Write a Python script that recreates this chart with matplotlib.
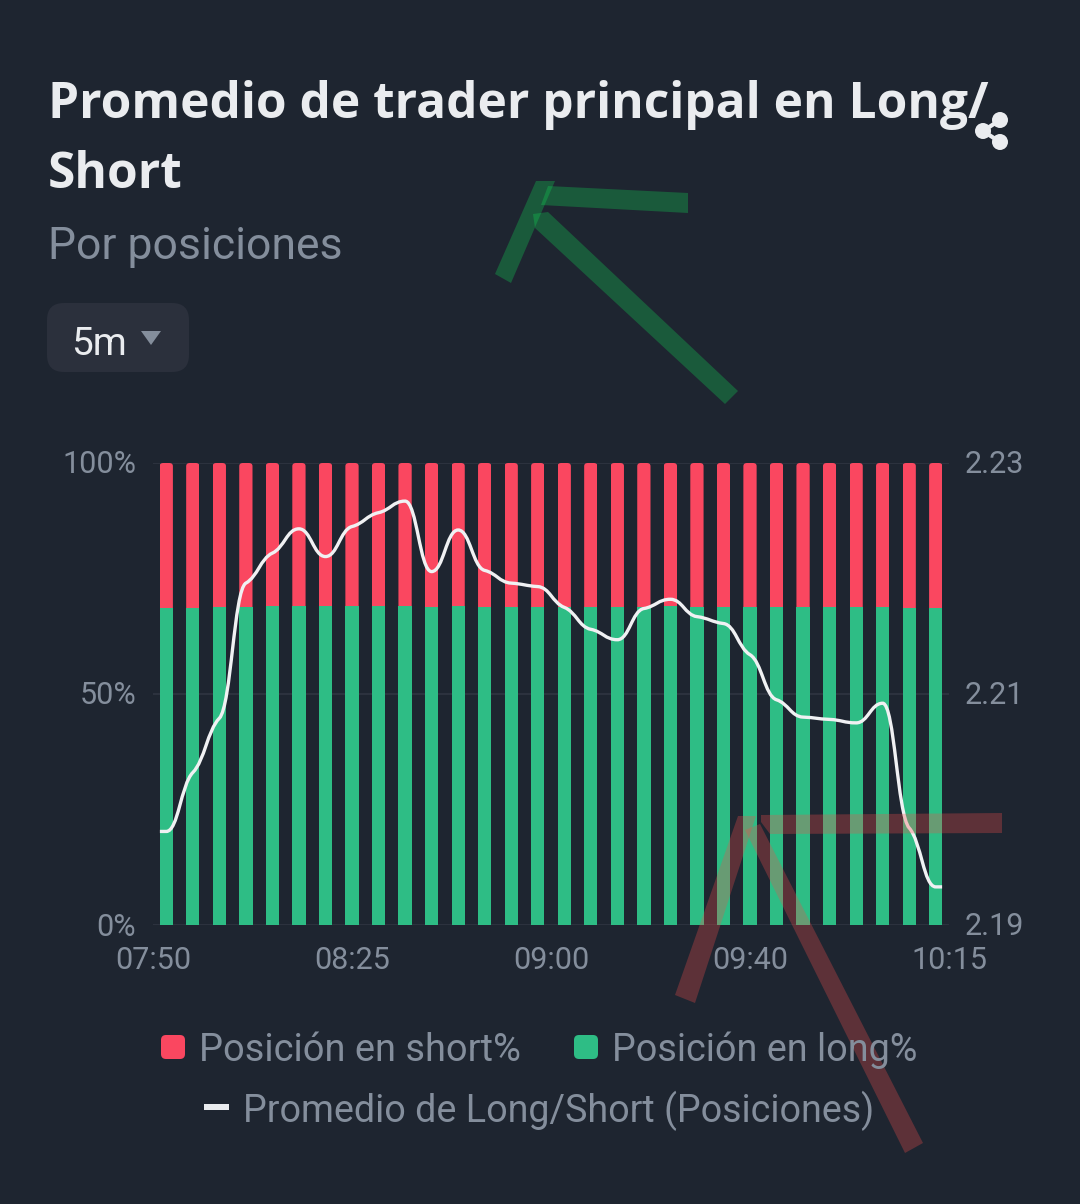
import matplotlib
matplotlib.use("Agg")
import matplotlib.pyplot as plt
import numpy as np
from matplotlib.patches import FancyBboxPatch, PathPatch, Polygon, Circle, Rectangle
from matplotlib.path import Path
from matplotlib.transforms import ScaledTranslation

W, H = 1080, 1204
BG = "#1e2530"
RED = "#fa4760"
GREEN = "#2ebd85"
GRAY = "#848e9c"
WHITE = "#eaecef"
GRID = "#2f3541"

times = ["07:50", "08:25", "09:00", "09:40", "10:15"]
pct_labels = ["0%", "50%", "100%"]
pct_ticks = [0, 50, 100]
ratio_labels = ["2.19", "2.21", "2.23"]
ratio_ticks = [2.19, 2.21, 2.23]

long_pct = [68.7, 68.7, 68.8, 68.9, 69.0, 69.0, 69.0, 69.0, 69.0, 69.0,
            68.9, 69.0, 68.9, 68.9, 68.9, 68.8, 68.8, 68.8, 68.9, 69.0,
            68.9, 68.9, 68.8, 68.9, 68.8, 68.8, 68.8, 68.8, 68.7, 68.7]
short_pct = [100 - v for v in long_pct]
ratio = [2.1981, 2.2032, 2.2079, 2.2196, 2.2222, 2.2243, 2.2219, 2.2245, 2.2257, 2.2267,
         2.2206, 2.2242, 2.2207, 2.2196, 2.2193, 2.2175, 2.2156, 2.2147, 2.2174, 2.2182,
         2.2167, 2.2161, 2.2134, 2.2095, 2.2080, 2.2078, 2.2075, 2.2092, 2.1984, 2.1933]


def monotone_path(x, y, pad=0.24):
    # monotone curve with flat shoulders at each point, as bezier segments
    x = np.asarray(x, float)
    y = np.asarray(y, float)
    s = np.diff(y) / np.diff(x)
    m = np.zeros(len(y))
    for i in range(1, len(y) - 1):
        if s[i - 1] * s[i] > 0:
            m[i] = np.sign(s[i]) * 0.5 * min(abs(s[i - 1]), abs(s[i]))
    verts = [(x[0] - pad, y[0]), (x[0], y[0])]
    codes = [Path.MOVETO, Path.LINETO]
    for i in range(len(x) - 1):
        h = (x[i + 1] - x[i]) * 0.45
        verts += [(x[i] + h, y[i] + m[i] * h), (x[i + 1] - h, y[i + 1] - m[i + 1] * h), (x[i + 1], y[i + 1])]
        codes += [Path.CURVE4] * 3
    verts.append((x[-1] + pad, y[-1]))
    codes.append(Path.LINETO)
    return Path(verts, codes)


plt.rcParams["font.family"] = ["Roboto", "DejaVu Sans"]
fig = plt.figure(figsize=(W / 100, H / 100), dpi=100, facecolor=BG)

# overlay in pixel coordinates for header, legend and hand drawn arrows
over = fig.add_axes([0, 0, 1, 1], zorder=3)
over.set_xlim(0, W)
over.set_ylim(H, 0)
over.axis("off")
over.patch.set_alpha(0)

ax = fig.add_axes([153 / W, 1 - 925 / H, 796 / W, 462 / H], facecolor=BG)
x = np.arange(len(long_pct))
ax.set_xlim(-0.5, len(x) - 0.5)
ax.set_ylim(0, 100)
ax.bar(x, long_pct, width=0.5, color=GREEN, zorder=2)
reds = ax.bar(x, short_pct, bottom=long_pct, width=0.5, color=RED, zorder=2)
for xi, bar in zip(x, reds):
    clip = FancyBboxPatch((xi - 0.25, 0), 0.5, 100, boxstyle="round,pad=0,rounding_size=0.14",
                          mutation_aspect=0.8 / 0.14 * 0.85, transform=ax.transData)
    bar.set_clip_path(clip)
for s in ax.spines.values():
    s.set_visible(False)
ax.set_yticks(pct_ticks)
ax.set_yticklabels(pct_labels, va="center")
# time labels sit evenly along the whole axis, not on the bars
ax.set_xticks(np.linspace(-0.5, len(x) - 0.5, len(times)))
ax.set_xticklabels(times)
ax.tick_params(length=0, labelsize=22, labelcolor=GRAY)
ax.tick_params(axis="y", pad=12)
ax.tick_params(axis="x", pad=15)
ax.grid(axis="y", color=GRID, lw=1.2, zorder=1)
ax.set_axisbelow(True)

ax2 = ax.twinx()
ax2.set_ylim(2.19, 2.23)
ax2.set_yticks(ratio_ticks)
ax2.set_yticklabels(ratio_labels, va="center")
ax2.tick_params(length=0, labelsize=22, labelcolor=GRAY, pad=11)
for s in ax2.spines.values():
    s.set_visible(False)
ax2.add_patch(PathPatch(monotone_path(x, ratio), fill=False, ec="#f0f1f3", lw=2.4, zorder=4))

# y labels sit 2px lower than va=center puts them
nudge = ScaledTranslation(0, -0.02, fig.dpi_scale_trans)
for t in ax.get_yticklabels() + ax2.get_yticklabels():
    t.set_transform(t.get_transform() + nudge)

# header
over.text(48, 118, "Promedio de trader principal en Long/", color=WHITE, fontsize=35.7, fontweight="bold", family="Open Sans")
over.text(48, 188, "Short", color=WHITE, fontsize=35.7, fontweight="bold", family="Open Sans")
over.text(48, 259, "Por posiciones", color=GRAY, fontsize=32)
over.add_patch(FancyBboxPatch((47, 303), 142, 69, boxstyle="round,pad=0,rounding_size=17", fc="#2b303c", ec="none"))
over.text(71, 355, "5m", color=WHITE, fontsize=28)
over.add_patch(Polygon([(141, 331), (161, 331), (151, 345)], fc=GRAY, ec="none"))

# share icon
for a, b in [((1000, 120), (983, 131)), ((983, 131), (1000, 142))]:
    over.plot([a[0], b[0]], [a[1], b[1]], color=WHITE, lw=3)
for c in [(1000, 120), (983, 131), (1000, 142)]:
    over.add_patch(Circle(c, 8, fc=WHITE, ec="none"))

# legend
over.add_patch(FancyBboxPatch((161, 1035), 24, 24, boxstyle="round,pad=0,rounding_size=5", fc=RED, ec="none"))
over.text(199, 1061, "Posición en short%", color=GRAY, fontsize=27.4)
over.add_patch(FancyBboxPatch((574, 1035), 24, 24, boxstyle="round,pad=0,rounding_size=5", fc=GREEN, ec="none"))
over.text(612, 1061, "Posición en long%", color=GRAY, fontsize=27.2)
over.add_patch(Rectangle((204, 1104), 25, 6, fc=WHITE, ec="none"))
over.text(243, 1122, "Promedio de Long/Short (Posiciones)", color=GRAY, fontsize=27.1)

# hand drawn arrows on the screenshot
green_strokes = [
    [(536, 181), (555, 181), (511, 283), (495, 274)],
    [(548, 186), (688, 193), (688, 213), (541, 205)],
    [(533, 214), (548, 212), (738, 391), (725, 404), (535, 228)],
]
red_strokes = [
    [(738, 816), (756, 816), (695, 1003), (675, 995)],
    [(745, 830), (760, 824), (923, 1143), (905, 1153)],
    [(761, 815), (1002, 813), (1002, 833), (770, 834), (761, 822)],
]
for pts in green_strokes:
    over.add_patch(Polygon(pts, fc=(17 / 255, 213 / 255, 85 / 255), alpha=0.3, ec="none"))
for pts in red_strokes:
    over.add_patch(Polygon(pts, fc=(240 / 255, 77 / 255, 75 / 255), alpha=0.3, ec="none"))

fig.savefig("out.png", dpi=100, facecolor=BG)
